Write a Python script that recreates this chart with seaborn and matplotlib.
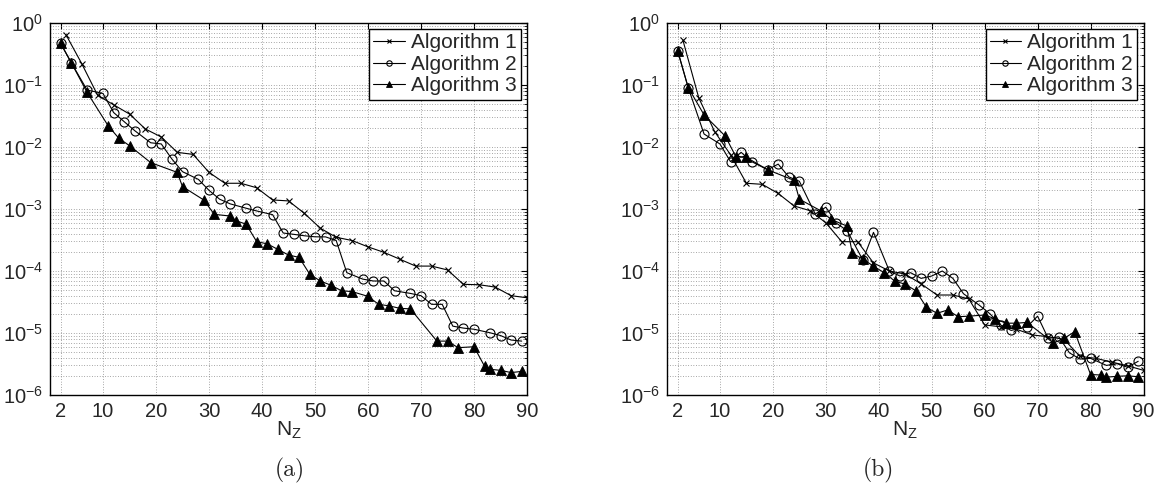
import numpy as np
import pandas as pd
import matplotlib
matplotlib.use("Agg")
import matplotlib.pyplot as plt
import seaborn as sns
from matplotlib.ticker import LogLocator, NullFormatter, NullLocator, LogFormatterMathtext

# ---------------- data ----------------
x_alg1 = [3, 6, 9, 12, 15, 18, 21, 24, 27, 30, 33, 36, 39, 42, 45,
          48, 51, 54, 57, 60, 63, 66, 69, 72, 75, 78, 81, 84, 87, 90]
x_alg2 = [2, 4, 7, 10, 12, 14, 16, 19, 21, 23, 25, 28, 30, 32, 34, 37, 39, 42, 44, 46,
          48, 50, 52, 54, 56, 59, 61, 63, 65, 68, 70, 72, 74, 76, 78, 80, 83, 85, 87, 89]
x_alg3 = [2, 4, 7, 11, 13, 15, 19, 24, 25, 29, 31, 34, 35, 37, 39, 41, 43, 45, 47, 49,
          51, 53, 55, 57, 60, 62, 64, 66, 68, 73, 75, 77, 80, 82, 83, 85, 87, 89]

# panel (a)
a_alg1 = [0.65, 0.22, 0.068, 0.048, 0.034, 0.0195, 0.0145, 0.0082, 0.0076, 0.0039,
          0.0026, 0.0026, 0.0022, 0.0014, 0.00135, 8.5e-4, 4.9e-4, 3.5e-4, 3.1e-4, 2.45e-4,
          2.0e-4, 1.55e-4, 1.2e-4, 1.2e-4, 1.04e-4, 6.1e-5, 6.0e-5, 5.5e-5, 4.0e-5, 3.7e-5]
a_alg2 = [0.47, 0.23, 0.083, 0.073, 0.036, 0.0256, 0.0183, 0.0117, 0.0112, 0.0064,
          0.0040, 0.0030, 0.0020, 0.00144, 0.00121, 0.00103, 9.3e-4, 8.1e-4, 4.1e-4, 3.9e-4,
          3.7e-4, 3.56e-4, 3.55e-4, 3.1e-4, 9.4e-5, 7.4e-5, 6.9e-5, 6.9e-5, 4.8e-5, 4.35e-5,
          4.0e-5, 2.9e-5, 2.9e-5, 1.29e-5, 1.2e-5, 1.15e-5, 1.01e-5, 9.1e-6, 7.7e-6, 7.4e-6]
a_alg3 = [0.47, 0.23, 0.076, 0.0218, 0.0138, 0.0105, 0.0056, 0.0039, 0.0023, 0.0014,
          8.2e-4, 7.7e-4, 6.5e-4, 5.7e-4, 2.97e-4, 2.74e-4, 2.23e-4, 1.81e-4, 1.66e-4, 8.9e-5,
          6.9e-5, 5.9e-5, 4.8e-5, 4.65e-5, 3.9e-5, 2.9e-5, 2.74e-5, 2.5e-5, 2.45e-5, 7.4e-6,
          7.4e-6, 5.8e-6, 6.0e-6, 2.9e-6, 2.6e-6, 2.5e-6, 2.3e-6, 2.4e-6]

# panel (b)
b_alg1 = [0.53, 0.062, 0.0177, 0.0075, 0.0026, 0.0025, 0.00178, 0.00112, 9.4e-4, 6.0e-4,
          2.97e-4, 2.97e-4, 1.35e-4, 1.0e-4, 8.9e-5, 6.2e-5, 4.1e-5, 4.1e-5, 3.55e-5, 1.35e-5,
          1.26e-5, 1.15e-5, 9.3e-6, 8.7e-6, 7.9e-6, 4.2e-6, 3.9e-6, 3.4e-6, 2.96e-6, 2.5e-6]
b_alg2 = [0.36, 0.091, 0.0162, 0.0112, 0.0058, 0.0082, 0.0058, 0.0043, 0.0053, 0.0033,
          0.0028, 8.3e-4, 1.07e-3, 5.9e-4, 4.5e-4, 1.5e-4, 4.2e-4, 1.0e-4, 8.3e-5, 9.4e-5,
          7.6e-5, 8.3e-5, 1.0e-4, 7.6e-5, 4.3e-5, 2.8e-5, 2.04e-5, 1.35e-5, 1.1e-5, 1.26e-5,
          1.87e-5, 8.2e-6, 8.7e-6, 4.8e-6, 3.8e-6, 3.9e-6, 3.0e-6, 3.2e-6, 2.8e-6, 3.5e-6]
b_alg3 = [0.36, 0.091, 0.033, 0.015, 0.0070, 0.0068, 0.0043, 0.0029, 0.00144, 9.4e-4,
          6.8e-4, 5.3e-4, 1.94e-4, 1.55e-4, 1.2e-4, 9.4e-5, 6.9e-5, 6.1e-5, 4.8e-5, 2.6e-5,
          2.08e-5, 2.35e-5, 1.83e-5, 1.87e-5, 1.95e-5, 1.69e-5, 1.44e-5, 1.44e-5, 1.48e-5, 6.9e-6,
          8.2e-6, 1.05e-5, 2.14e-6, 2.1e-6, 1.94e-6, 2.0e-6, 2.04e-6, 1.97e-6]

labels = ["Algorithm 1", "Algorithm 2", "Algorithm 3"]
x_ticks = [2, 10, 20, 30, 40, 50, 60, 70, 80, 90]
captions = ["(a)", "(b)"]
x_label = r"N$_\mathregular{Z}$"

# ---------------- style ----------------
sns.set_style("white")
plt.rcParams.update({
    "font.family": ["Liberation Sans", "DejaVu Sans"],
    "mathtext.fontset": "custom",
    "mathtext.rm": "Liberation Sans",
    "mathtext.it": "Liberation Sans:italic",
    "mathtext.bf": "Liberation Sans:bold",
    "mathtext.default": "regular",
    "axes.edgecolor": "black",
    "axes.linewidth": 1.0,
})

fig = plt.figure(figsize=(11.64, 4.97), dpi=100)
W, H = 1164.0, 497.0
ax_a = fig.add_axes([50 / W, 1 - 395 / H, 477 / W, 372 / H])
ax_b = fig.add_axes([667 / W, 1 - 395 / H, 476.5 / W, 372 / H])


def draw(ax, y1, y2, y3):
    ax.set_yscale("log")
    common = dict(ax=ax, color="k", linewidth=0.8, errorbar=None, zorder=3)
    sns.lineplot(x=x_alg1, y=y1, marker="x", markersize=5, markeredgewidth=0.8,
                 markeredgecolor="k", label=labels[0], **common)
    sns.lineplot(x=x_alg2, y=y2, marker="o", markersize=6.5, markeredgewidth=0.8,
                 markerfacecolor="none", markeredgecolor="k", label=labels[1], **common)
    sns.lineplot(x=x_alg3, y=y3, marker="^", markersize=6.5, markeredgewidth=0.6,
                 markerfacecolor="k", markeredgecolor="k", label=labels[2], **common)

    ax.set_xlim(0, 90)
    ax.set_ylim(1e-6, 1)
    ax.set_xticks(x_ticks)
    ax.xaxis.set_minor_locator(NullLocator())
    ax.yaxis.set_major_locator(LogLocator(base=10, numticks=10))
    ax.yaxis.set_major_formatter(LogFormatterMathtext())
    ax.yaxis.set_minor_locator(LogLocator(base=10, subs=np.arange(2, 10), numticks=20))
    ax.yaxis.set_minor_formatter(NullFormatter())

    grid_kw = dict(linestyle=(0, (1, 2.4)), color="0.45", linewidth=0.55)
    ax.grid(True, which="major", axis="both", **grid_kw)
    ax.grid(True, which="minor", axis="y", **grid_kw)
    ax.set_axisbelow(True)

    ax.tick_params(which="both", direction="in", top=True, right=True,
                   labelsize=14.5, color="k")
    ax.tick_params(which="major", length=4, width=0.8, pad=5)
    ax.tick_params(which="minor", length=2.2, width=0.6)
    for s in ax.spines.values():
        s.set_visible(True)
        s.set_color("k")
        s.set_linewidth(1.0)

    ax.set_xlabel(x_label, fontsize=15, labelpad=-1)
    ax.set_ylabel("")

    leg = ax.legend(loc="upper right", frameon=True, fancybox=False, edgecolor="k",
                    framealpha=1, fontsize=15, handlelength=1.5, handletextpad=0.3,
                    labelspacing=0.12, borderpad=0.2, borderaxespad=0.3,
                    markerscale=0.6)
    leg.get_frame().set_linewidth(1.0)


draw(ax_a, a_alg1, a_alg2, a_alg3)
draw(ax_b, b_alg1, b_alg2, b_alg3)

fig.text(290 / W, 1 - 470 / H, captions[0], fontfamily="cmr10", fontsize=17,
         ha="center", va="center")
fig.text(878 / W, 1 - 470 / H, captions[1], fontfamily="cmr10", fontsize=17,
         ha="center", va="center")

fig.savefig("out.png", dpi=100)
